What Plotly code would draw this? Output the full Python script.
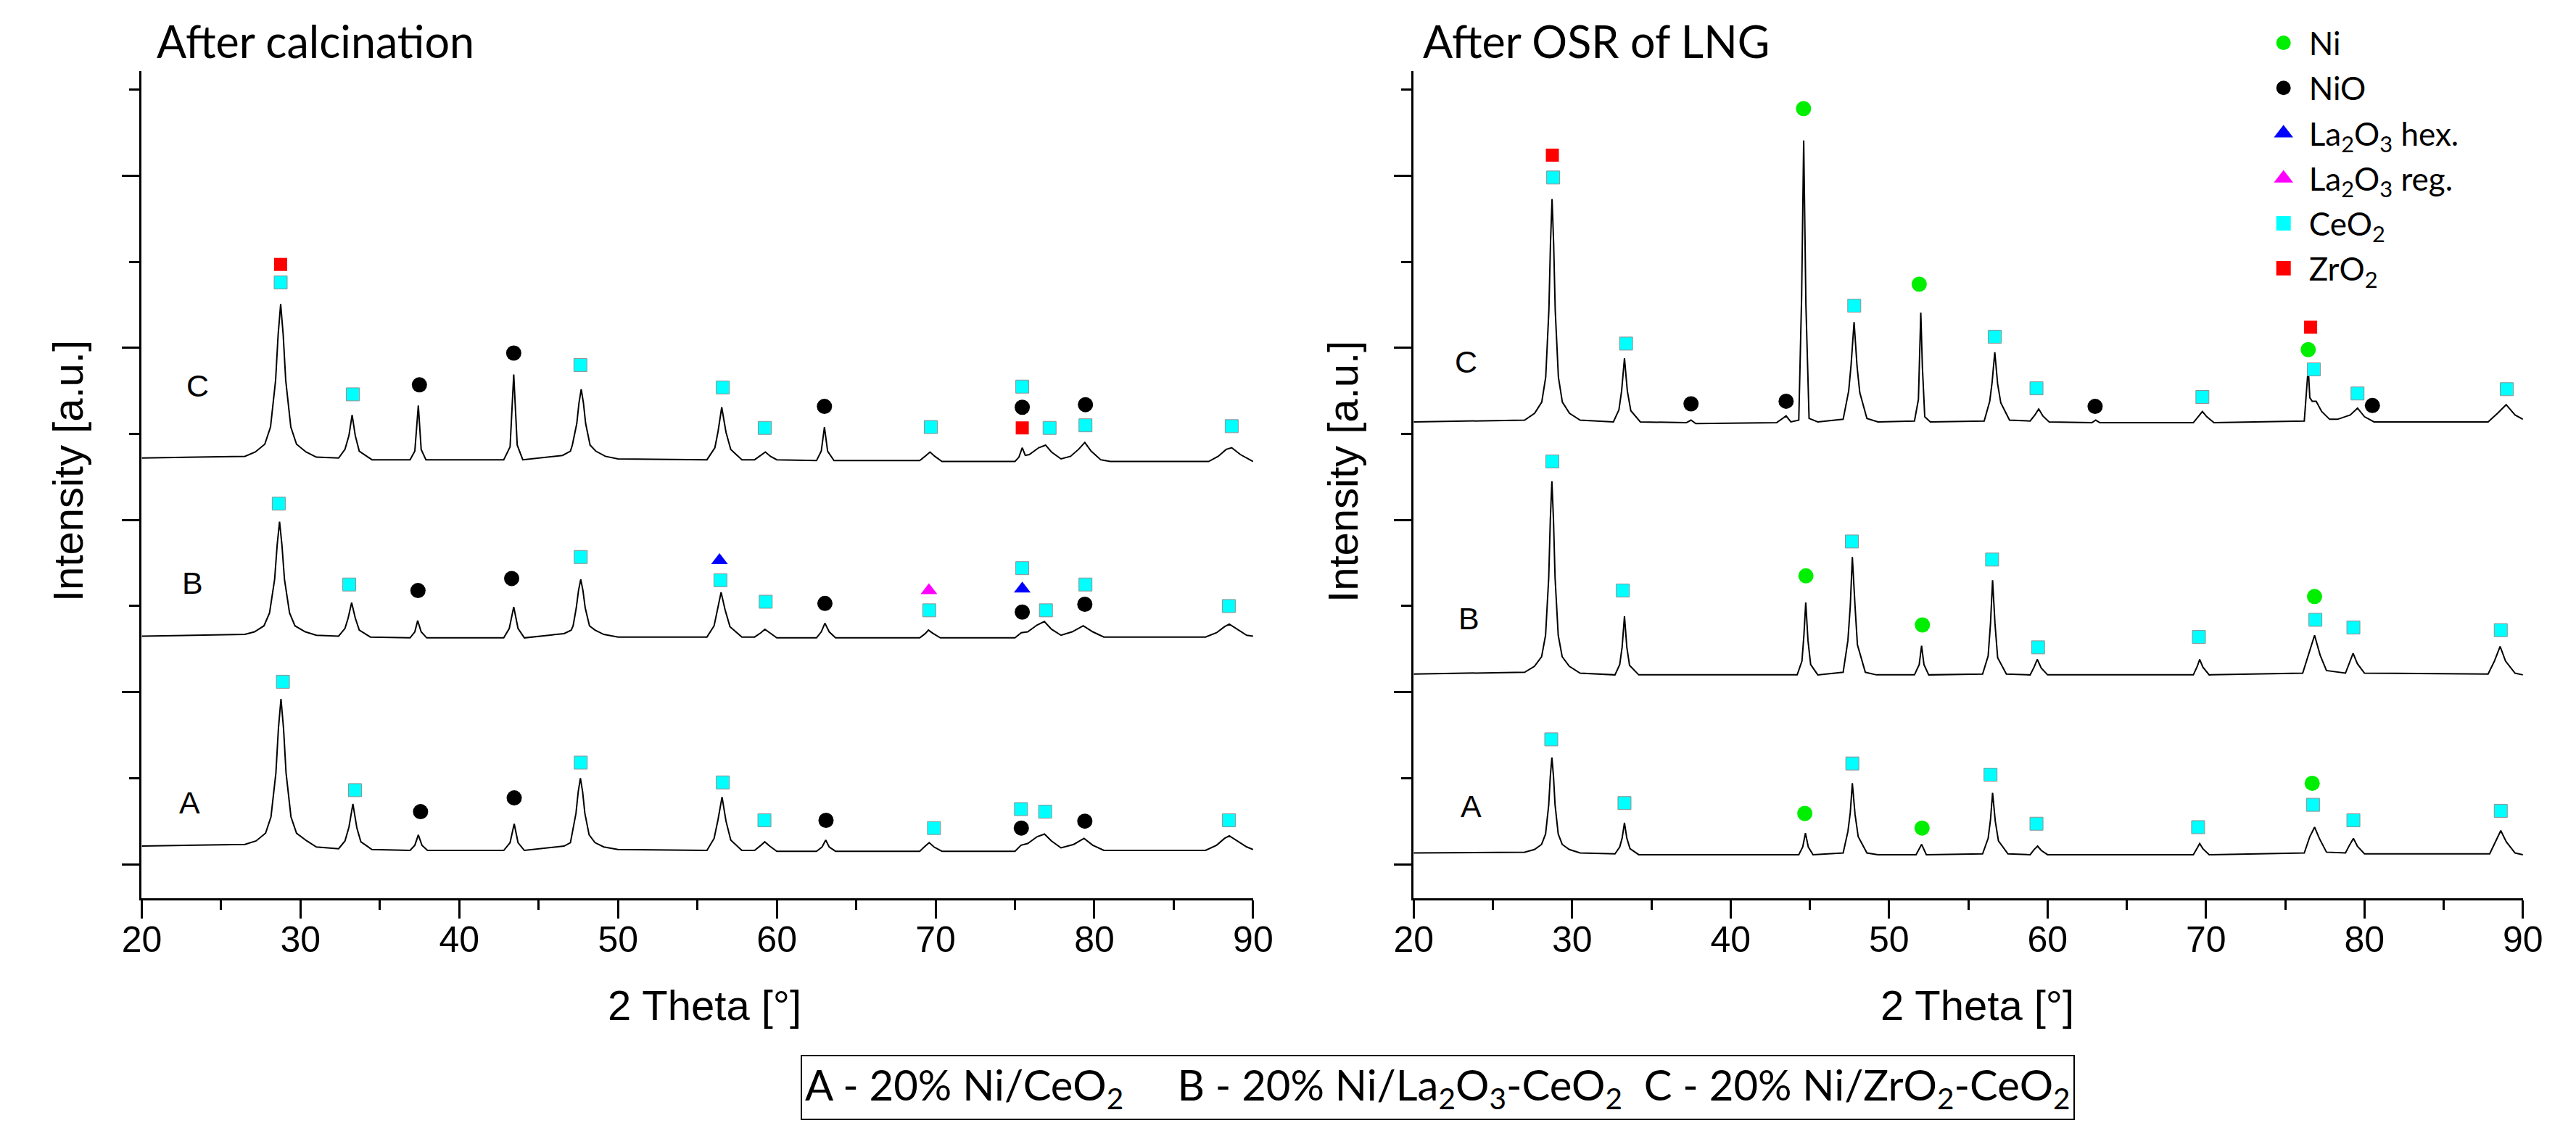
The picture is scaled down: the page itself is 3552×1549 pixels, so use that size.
import plotly.graph_objects as go

# ---- XRD patterns: (2 theta, intensity in tick units) ----
calc_C = [(20.0, 4.72), (26.5, 4.74), (27.15, 4.79), (27.75, 4.88), (28.11, 5.08), (28.43, 5.62),
          (28.59, 6.15), (28.75, 6.51), (28.91, 6.15), (29.07, 5.62), (29.39, 5.08), (29.75, 4.88),
          (30.35, 4.79), (31.0, 4.73), (32.4, 4.72), (32.8, 4.82), (33.05, 4.98), (33.25, 5.22),
          (33.45, 4.98), (33.7, 4.8), (34.5, 4.7), (36.9, 4.7), (37.2, 4.8), (37.42, 5.33),
          (37.6, 4.82), (37.9, 4.7), (42.8, 4.7), (43.2, 4.85), (43.43, 5.69), (43.65, 4.87),
          (44.0, 4.7), (46.5, 4.75), (47.0, 4.8), (47.12, 4.87), (47.4, 5.12), (47.54, 5.36),
          (47.68, 5.52), (47.82, 5.36), (47.96, 5.12), (48.24, 4.87), (48.6, 4.8), (49.2, 4.74),
          (50.0, 4.71), (55.6, 4.7), (56.1, 4.84), (56.3, 5.03), (56.53, 5.31),
          (56.8, 5.02), (57.1, 4.82), (57.8, 4.7), (58.6, 4.7), (59.0, 4.75), (59.28, 4.79),
          (59.6, 4.74), (60.0, 4.7), (62.5, 4.69), (62.8, 4.8), (63.0, 5.08), (63.2, 4.8),
          (63.6, 4.69), (69.0, 4.69), (69.4, 4.75), (69.65, 4.79), (69.95, 4.74), (70.4, 4.68),
          (75.0, 4.68), (75.25, 4.73), (75.46, 4.84), (75.65, 4.75), (75.9, 4.76), (76.5, 4.84),
          (76.93, 4.87), (77.3, 4.79), (77.9, 4.71), (78.5, 4.74), (79.0, 4.82), (79.4, 4.9),
          (79.8, 4.8), (80.4, 4.7), (81.0, 4.68), (87.2, 4.68), (87.8, 4.74), (88.3, 4.82),
          (88.65, 4.84), (89.2, 4.76), (90.0, 4.68)]

calc_B = [(20.0, 2.65), (26.5, 2.67), (27.1, 2.7), (27.7, 2.77), (28.05, 2.92), (28.37, 3.31),
          (28.53, 3.71), (28.68, 3.98), (28.83, 3.71), (28.99, 3.31), (29.31, 2.92), (29.65, 2.77),
          (30.3, 2.7), (31.0, 2.66), (32.4, 2.65), (32.8, 2.74), (33.0, 2.86), (33.22, 3.04),
          (33.45, 2.86), (33.7, 2.72), (34.4, 2.64), (36.9, 2.63), (37.2, 2.7), (37.38, 2.83),
          (37.6, 2.7), (37.95, 2.63), (42.8, 2.63), (43.15, 2.74), (43.43, 2.99), (43.7, 2.74),
          (44.1, 2.63), (46.6, 2.68), (47.05, 2.72), (47.17, 2.77), (47.37, 2.98), (47.51, 3.18),
          (47.65, 3.31), (47.79, 3.18), (47.93, 2.98), (48.2, 2.77), (48.55, 2.72), (49.1, 2.67),
          (50.0, 2.64), (55.6, 2.64), (56.05, 2.77), (56.25, 2.95), (56.49, 3.16),
          (56.75, 2.95), (57.05, 2.76), (57.8, 2.64), (58.6, 2.64), (59.0, 2.69), (59.25, 2.73),
          (59.55, 2.69), (60.0, 2.63), (62.5, 2.63), (62.8, 2.7), (63.03, 2.8), (63.3, 2.7),
          (63.7, 2.63), (69.0, 2.63), (69.35, 2.68), (69.55, 2.72), (69.85, 2.68), (70.3, 2.63),
          (75.0, 2.63), (75.4, 2.69), (75.8, 2.7), (76.4, 2.78), (76.85, 2.82), (77.3, 2.73),
          (77.9, 2.66), (78.6, 2.7), (79.3, 2.77), (79.9, 2.7), (80.6, 2.64), (87.0, 2.64),
          (87.7, 2.69), (88.2, 2.76), (88.5, 2.79), (89.0, 2.73), (89.6, 2.66), (90.0, 2.65)]

calc_A = [(20.0, 0.21), (26.5, 0.23), (27.2, 0.27), (27.8, 0.36), (28.14, 0.55), (28.45, 1.06),
          (28.61, 1.58), (28.77, 1.92), (28.93, 1.58), (29.09, 1.06), (29.4, 0.55), (29.75, 0.36),
          (30.4, 0.27), (31.0, 0.2), (32.4, 0.18), (32.8, 0.27), (33.05, 0.43), (33.3, 0.7),
          (33.55, 0.42), (33.8, 0.26), (34.5, 0.17), (36.9, 0.16), (37.2, 0.22), (37.42, 0.34),
          (37.65, 0.22), (38.0, 0.16), (42.8, 0.16), (43.2, 0.25), (43.46, 0.47), (43.7, 0.25),
          (44.1, 0.16), (46.6, 0.21), (47.0, 0.25), (47.1, 0.34), (47.35, 0.59), (47.49, 0.84),
          (47.63, 1.0), (47.77, 0.84), (47.91, 0.59), (48.18, 0.34), (48.55, 0.25), (49.1, 0.2),
          (50.0, 0.17), (55.6, 0.16), (56.05, 0.3), (56.3, 0.52), (56.55, 0.78),
          (56.8, 0.5), (57.1, 0.28), (57.8, 0.16), (58.6, 0.16), (59.0, 0.22), (59.24, 0.26),
          (59.55, 0.21), (60.0, 0.15), (62.5, 0.15), (62.85, 0.2), (63.08, 0.28), (63.3, 0.2),
          (63.7, 0.15), (69.0, 0.15), (69.35, 0.21), (69.6, 0.25), (69.9, 0.2), (70.4, 0.15),
          (75.0, 0.15), (75.38, 0.22), (75.8, 0.24), (76.4, 0.32), (76.86, 0.35), (77.3, 0.27),
          (77.9, 0.19), (78.7, 0.23), (79.35, 0.3), (79.9, 0.22), (80.6, 0.16), (87.0, 0.16),
          (87.7, 0.22), (88.2, 0.3), (88.5, 0.33), (89.0, 0.27), (89.6, 0.2), (90.0, 0.17)]

osr_C = [(20.0, 5.14), (27.0, 5.16), (27.63, 5.24), (28.08, 5.37), (28.33, 5.66), (28.53, 6.44),
         (28.63, 7.21), (28.73, 7.73), (28.83, 7.21), (28.93, 6.44), (29.13, 5.66), (29.38, 5.37),
         (29.83, 5.24), (30.5, 5.16), (32.6, 5.14), (32.95, 5.28), (33.12, 5.5), (33.3, 5.88),
         (33.48, 5.5), (33.7, 5.27), (34.3, 5.14), (37.2, 5.13), (37.5, 5.16), (37.8, 5.12),
         (42.9, 5.13), (43.5, 5.21), (43.8, 5.14), (44.3, 5.16), (44.48, 6.6), (44.61, 8.41),
         (44.75, 6.5), (44.95, 5.18), (45.5, 5.14), (47.1, 5.17), (47.45, 5.5), (47.6, 5.8),
         (47.79, 6.3), (47.98, 5.78), (48.15, 5.48), (48.6, 5.18), (49.3, 5.14), (51.6, 5.15),
         (51.85, 5.4), (52.0, 6.41), (52.1, 5.78), (52.25, 5.2), (52.6, 5.14), (56.0, 5.15),
         (56.35, 5.38), (56.5, 5.6), (56.67, 5.95), (56.85, 5.58), (57.05, 5.36), (57.6, 5.16),
         (58.9, 5.15), (59.2, 5.22), (59.44, 5.29), (59.7, 5.21), (60.1, 5.14), (62.8, 5.13),
         (63.04, 5.16), (63.3, 5.13), (69.2, 5.13), (69.5, 5.2), (69.77, 5.26), (70.05, 5.2),
         (70.5, 5.13), (76.2, 5.15), (76.38, 5.6), (76.45, 5.77), (76.55, 5.42), (76.7, 5.38),
         (76.95, 5.38), (77.3, 5.26), (77.8, 5.17), (78.3, 5.17), (79.1, 5.22), (79.56, 5.3),
         (80.0, 5.2), (80.6, 5.14), (87.8, 5.14), (88.4, 5.24), (88.94, 5.34), (89.5, 5.22),
         (90.0, 5.17)]

osr_B = [(20.0, 2.21), (27.0, 2.23), (27.62, 2.3), (28.07, 2.41), (28.32, 2.66), (28.52, 3.33),
         (28.62, 4.0), (28.72, 4.45), (28.82, 4.0), (28.92, 3.33), (29.12, 2.66), (29.37, 2.41),
         (29.82, 2.3), (30.5, 2.22), (32.7, 2.2), (33.0, 2.32), (33.15, 2.52), (33.3, 2.88),
         (33.45, 2.52), (33.62, 2.31), (34.2, 2.2), (44.2, 2.2), (44.5, 2.36), (44.62, 2.65),
         (44.74, 3.04), (44.88, 2.6), (45.05, 2.32), (45.5, 2.2), (47.1, 2.23), (47.4, 2.6),
         (47.55, 3.0), (47.68, 3.57), (47.85, 3.0), (48.0, 2.55), (48.5, 2.23), (49.2, 2.2),
         (51.6, 2.2), (51.9, 2.32), (52.05, 2.54), (52.2, 2.32), (52.5, 2.2), (55.9, 2.21),
         (56.25, 2.42), (56.4, 2.8), (56.53, 3.3), (56.68, 2.8), (56.85, 2.4), (57.4, 2.21),
         (58.9, 2.2), (59.15, 2.29), (59.35, 2.38), (59.6, 2.28), (60.0, 2.2), (69.2, 2.2),
         (69.45, 2.3), (69.6, 2.38), (69.8, 2.29), (70.2, 2.2), (76.1, 2.22), (76.5, 2.45),
         (76.85, 2.66), (77.2, 2.43), (77.6, 2.25), (78.8, 2.22), (79.05, 2.34), (79.28, 2.45),
         (79.55, 2.33), (80.0, 2.22), (87.8, 2.21), (88.2, 2.36), (88.56, 2.53), (88.9, 2.36),
         (89.5, 2.22), (90.0, 2.2)]

osr_A = [(20.0, 0.13), (27.0, 0.14), (27.62, 0.17), (28.07, 0.23), (28.32, 0.35), (28.52, 0.69),
         (28.62, 1.02), (28.72, 1.24), (28.82, 1.02), (28.92, 0.69), (29.12, 0.35), (29.37, 0.23),
         (29.82, 0.17), (30.5, 0.13), (32.7, 0.12), (33.0, 0.2), (33.15, 0.3), (33.3, 0.48),
         (33.45, 0.3), (33.65, 0.18), (34.2, 0.11), (44.3, 0.11), (44.55, 0.2), (44.72, 0.36),
         (44.9, 0.2), (45.2, 0.11), (47.1, 0.13), (47.4, 0.38), (47.55, 0.6), (47.68, 0.94),
         (47.85, 0.58), (48.05, 0.32), (48.6, 0.13), (49.3, 0.11), (51.7, 0.11), (52.05, 0.23),
         (52.35, 0.11), (55.9, 0.12), (56.25, 0.3), (56.4, 0.52), (56.53, 0.83), (56.7, 0.5),
         (56.9, 0.27), (57.5, 0.12), (58.9, 0.11), (59.15, 0.17), (59.37, 0.21), (59.6, 0.16),
         (60.0, 0.11), (69.2, 0.11), (69.45, 0.19), (69.6, 0.24), (69.8, 0.18), (70.2, 0.11),
         (76.2, 0.13), (76.55, 0.32), (76.85, 0.43), (77.15, 0.3), (77.6, 0.14), (78.8, 0.13),
         (79.05, 0.22), (79.3, 0.3), (79.55, 0.21), (80.0, 0.12), (87.9, 0.12), (88.3, 0.27),
         (88.6, 0.39), (88.95, 0.26), (89.5, 0.13), (90.0, 0.11)]

# ---- phase markers (2 theta, height) ----
calc_CeO2 = [(28.75, 6.76), (33.3, 5.46), (47.63, 5.8), (56.6, 5.54), (59.24, 5.07), (69.7, 5.08),
             (75.46, 5.55), (77.18, 5.07), (79.44, 5.1), (88.65, 5.09),
             (28.63, 4.19), (33.07, 3.25), (47.65, 3.57), (56.45, 3.3), (59.3, 3.05), (69.6, 2.95),
             (75.46, 3.44), (76.95, 2.95), (79.44, 3.25), (88.47, 3.0),
             (28.89, 2.12), (33.43, 0.86), (47.65, 1.18), (56.6, 0.95), (59.22, 0.51), (69.9, 0.42),
             (75.38, 0.64), (76.9, 0.61), (88.48, 0.51)]
calc_ZrO2 = [(28.75, 6.97), (75.46, 5.07)]
calc_NiO = [(37.49, 5.57), (43.43, 5.94), (63.0, 5.32), (75.46, 5.31), (79.44, 5.34),
            (37.4, 3.18), (43.3, 3.32), (63.03, 3.03), (75.46, 2.93), (79.4, 3.02),
            (37.56, 0.61), (43.46, 0.77), (63.1, 0.51), (75.4, 0.42), (79.4, 0.5)]
calc_La2O3_hex = [(56.39, 3.53), (75.46, 3.2)]
calc_La2O3_reg = [(69.58, 3.18)]

osr_CeO2 = [(28.8, 7.98), (33.4, 6.05), (47.8, 6.49), (56.67, 6.13), (59.3, 5.53), (69.77, 5.43),
            (76.8, 5.75), (79.56, 5.47), (88.98, 5.52),
            (28.75, 4.68), (33.2, 3.18), (47.65, 3.75), (56.5, 3.54), (59.4, 2.52), (69.55, 2.64),
            (76.9, 2.84), (79.3, 2.75), (88.6, 2.72),
            (28.68, 1.45), (33.3, 0.71), (47.68, 1.17), (56.4, 1.04), (59.3, 0.47), (69.5, 0.43),
            (76.75, 0.69), (79.3, 0.51), (88.6, 0.62)]
osr_ZrO2 = [(28.75, 8.24), (76.6, 6.24)]
osr_NiO = [(37.5, 5.35), (43.5, 5.38), (63.0, 5.32), (80.5, 5.33)]
osr_Ni = [(44.6, 8.78), (51.9, 6.74), (76.45, 5.98),
          (44.75, 3.35), (52.1, 2.78), (76.85, 3.11),
          (44.68, 0.59), (52.08, 0.42), (76.7, 0.94)]

sample_names = ['A', 'B', 'C']
phase_names = ['Ni', 'NiO', 'La<sub>2</sub>O<sub>3</sub> hex.', 'La<sub>2</sub>O<sub>3</sub> reg.',
               'CeO<sub>2</sub>', 'ZrO<sub>2</sub>']

# marker style per phase
styles = {
    'Ni': dict(symbol='circle', color='#00EE00', size=21),
    'NiO': dict(symbol='circle', color='black', size=21),
    'La<sub>2</sub>O<sub>3</sub> hex.': dict(symbol='triangle-up', color='#0000FF', size=20),
    'La<sub>2</sub>O<sub>3</sub> reg.': dict(symbol='triangle-up', color='#FF00FF', size=20),
    'CeO<sub>2</sub>': dict(symbol='square', color='#00FFFF', size=18),
    'ZrO<sub>2</sub>': dict(symbol='square', color='#FF0000', size=18),
}

W, H = 3552, 1549
fig = go.Figure()

# legend entries (top right)
for name in phase_names:
    st = styles[name]
    fig.add_trace(go.Scatter(
        x=[None], y=[None], mode='markers', name=name, legendgroup=name,
        xaxis='x2', yaxis='y2',
        marker=dict(symbol=st['symbol'], color=st['color'], size=16,
                    line=dict(color=st['color'], width=4))
    ))

# patterns
for pattern, ax in [(calc_A, 1), (calc_B, 1), (calc_C, 1), (osr_A, 2), (osr_B, 2), (osr_C, 2)]:
    xs, ys = zip(*pattern)
    fig.add_trace(go.Scatter(
        x=xs, y=ys, mode='lines', line=dict(color='black', width=2),
        showlegend=False, xaxis='x' if ax == 1 else 'x2', yaxis='y' if ax == 1 else 'y2'
    ))

# phase markers
marker_sets = [
    (calc_CeO2, 'CeO<sub>2</sub>', 1), (calc_ZrO2, 'ZrO<sub>2</sub>', 1), (calc_NiO, 'NiO', 1),
    (calc_La2O3_hex, 'La<sub>2</sub>O<sub>3</sub> hex.', 1),
    (calc_La2O3_reg, 'La<sub>2</sub>O<sub>3</sub> reg.', 1),
    (osr_CeO2, 'CeO<sub>2</sub>', 2), (osr_ZrO2, 'ZrO<sub>2</sub>', 2), (osr_NiO, 'NiO', 2),
    (osr_Ni, 'Ni', 2),
]
for pts, name, ax in marker_sets:
    st = styles[name]
    xs, ys = zip(*pts)
    edge = dict(color='#909090', width=1) if name == 'CeO<sub>2</sub>' else dict(width=0)
    fig.add_trace(go.Scatter(
        x=xs, y=ys, mode='markers', legendgroup=name, showlegend=False,
        xaxis='x' if ax == 1 else 'x2', yaxis='y' if ax == 1 else 'y2',
        marker=dict(symbol=st['symbol'], color=st['color'], size=st['size'], line=edge)
    ))

axis_font = 'Liberation Sans, Arial, sans-serif'
label_font = 'Lato, Open Sans, sans-serif'

xcommon = dict(range=[20, 90], tick0=0, dtick=10, showline=True, linecolor='black', linewidth=3,
               ticks='outside', ticklen=25, tickwidth=3, tickcolor='black', showgrid=False,
               zeroline=False, tickfont=dict(family=axis_font, size=50, color='black'),
               ticklabelstandoff=-14,
               minor=dict(dtick=5, ticks='outside', ticklen=13, tickwidth=3, tickcolor='black'))
ycommon = dict(range=[-0.396, 9.217], tick0=0, dtick=2, showline=True, linecolor='black',
               linewidth=3, ticks='outside', ticklen=24, tickwidth=3, tickcolor='black',
               showgrid=False, zeroline=False, showticklabels=False,
               minor=dict(dtick=1, ticks='outside', ticklen=14, tickwidth=3, tickcolor='black'))

ydom = [(H - 1231) / H, (H - 90) / H]
fig.update_layout(
    width=W, height=H, margin=dict(l=0, r=0, t=0, b=0),
    paper_bgcolor='white', plot_bgcolor='white',
    xaxis=dict(xcommon, domain=[162 / W, 1719 / W], anchor='y'),
    yaxis=dict(ycommon, domain=ydom, anchor='x'),
    xaxis2=dict(xcommon, domain=[1944 / W, 3498 / W], anchor='y2'),
    yaxis2=dict(ycommon, domain=ydom, anchor='x2'),
    legend=dict(x=3127 / W, y=(H - 16) / H, xanchor='left', yanchor='top',
                font=dict(family=label_font, size=44, color='black'),
                bgcolor='rgba(0,0,0,0)', tracegroupgap=2, itemsizing='trace', itemwidth=60),
)

annotations = []
# panel titles
for text, xpix in [('After calcination', 181), ('After OSR of LNG', 1955)]:
    annotations.append(dict(text=text, x=xpix / W, y=(H - 48) / H, xref='paper', yref='paper',
                            xanchor='left', yanchor='middle', showarrow=False,
                            font=dict(family=label_font, size=61, color='black')))
# axis titles
for xpix in [59, 1845]:
    annotations.append(dict(text='Intensity [a.u.]', x=xpix / W, y=(H - 642) / H, xref='paper',
                            yref='paper', xanchor='center', yanchor='middle', textangle=-90,
                            showarrow=False, font=dict(family=axis_font, size=58, color='black')))
for xpix in [950, 2734]:
    annotations.append(dict(text='2 Theta [\u00b0]', x=xpix / W, y=(H - 1378) / H, xref='paper',
                            yref='paper', xanchor='center', yanchor='middle', showarrow=False,
                            font=dict(family=axis_font, size=58, color='black')))
# sample labels
for name, xv, yv, xr, yr in [('C', 23.5, 5.56, 'x', 'y'), ('B', 23.2, 3.27, 'x', 'y'),
                             ('A', 23.0, 0.72, 'x', 'y'), ('C', 23.3, 5.84, 'x2', 'y2'),
                             ('B', 23.5, 2.86, 'x2', 'y2'), ('A', 23.6, 0.67, 'x2', 'y2')]:
    annotations.append(dict(text=name, x=xv, y=yv, xref=xr, yref=yr, showarrow=False,
                            xanchor='center', yanchor='middle',
                            font=dict(family=axis_font, size=43, color='black')))
# sample key box
sp = '&nbsp;' * 5
key = ('A - 20% Ni/CeO<sub>2</sub>' + sp + 'B - 20% Ni/La<sub>2</sub>O<sub>3</sub>-CeO<sub>2</sub>'
       + '&nbsp;&nbsp;' + 'C - 20% Ni/ZrO<sub>2</sub>-CeO<sub>2</sub>')
annotations.append(dict(text=key, x=1978 / W, y=(H - 1492) / H, xref='paper', yref='paper',
                        xanchor='center', yanchor='middle', showarrow=False,
                        bordercolor='black', borderwidth=2, borderpad=4,
                        font=dict(family=label_font, size=58, color='black')))

fig.update_layout(annotations=annotations)

fig.write_html("out.html")
